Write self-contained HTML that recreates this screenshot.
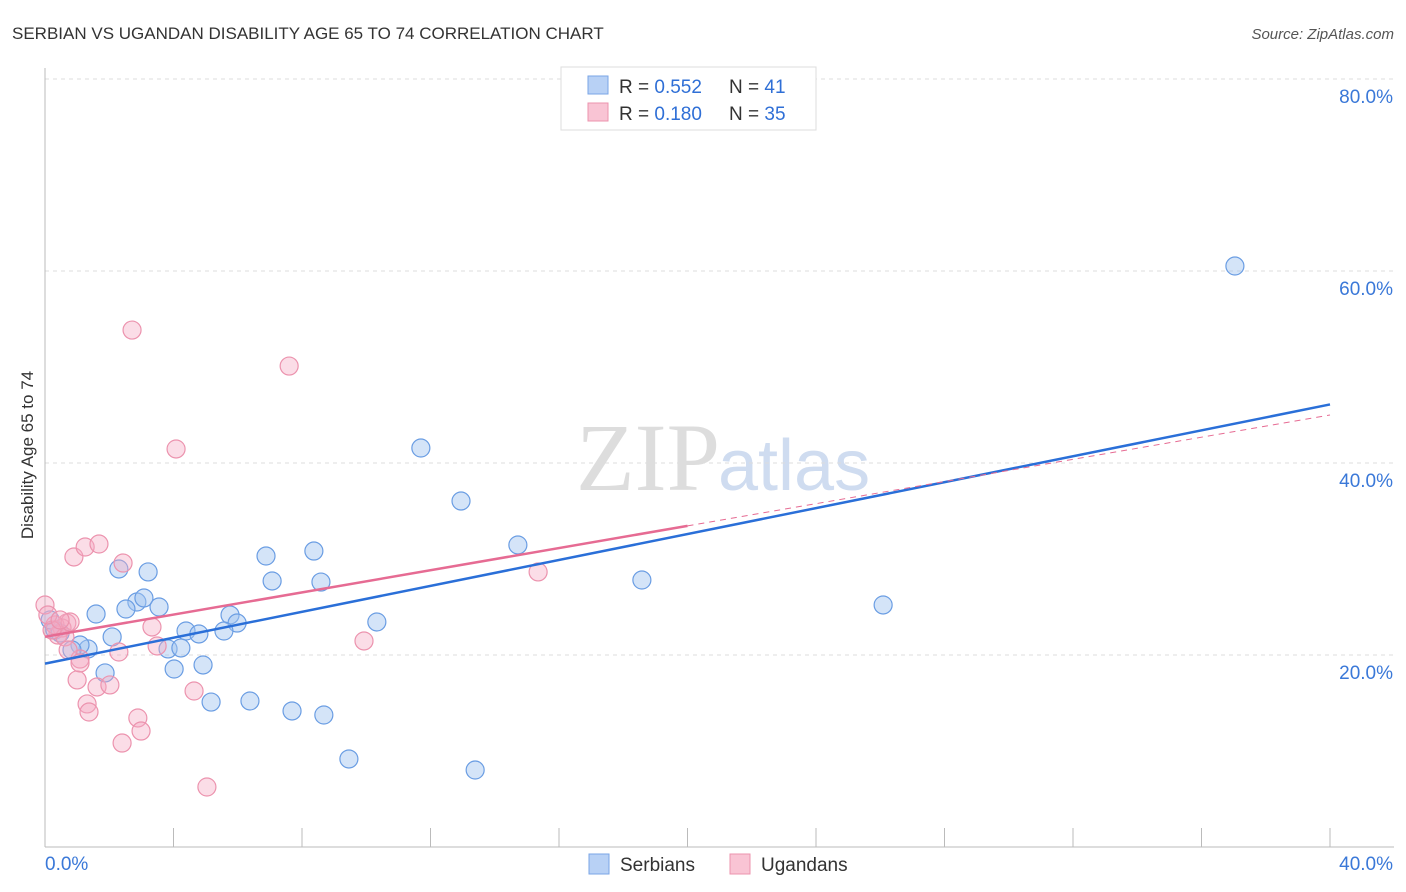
<!DOCTYPE html>
<html><head><meta charset="utf-8"><style>
body{margin:0;background:#fff;font-family:"Liberation Sans",sans-serif;}
svg{display:block}
</style></head><body>
<svg id="c" width="1406" height="892">
<text x="12" y="39" font-size="17" fill="#333">SERBIAN VS UGANDAN DISABILITY AGE 65 TO 74 CORRELATION CHART</text>
<text x="1394" y="39" font-size="15" fill="#555" font-style="italic" text-anchor="end">Source: ZipAtlas.com</text>
<text x="720" y="490" font-size="96" fill="#ddd" font-family="Liberation Serif" text-anchor="end">ZIP</text>
<text x="718" y="490" font-size="72" fill="#cfdcf0">atlas</text>
<text transform="translate(33,455) rotate(-90)" font-size="17" fill="#333" text-anchor="middle">Disability Age 65 to 74</text>
<g id="grid"></g><g id="pts"></g><g id="lines"></g>
<g>
<rect x="561" y="67" width="255" height="63" fill="#fff" stroke="#ddd"/>
<rect x="588" y="76" width="20" height="18" fill="#b8d1f5" stroke="#7aa5e6"/>
<rect x="588" y="103" width="20" height="18" fill="#f9c4d4" stroke="#ec93ae"/>
<text x="619" y="93" font-size="19" fill="#333">R = <tspan fill="#2f6fd6">0.552</tspan><tspan x="729">N = </tspan><tspan fill="#2f6fd6">41</tspan></text>
<text x="619" y="120" font-size="19" fill="#333">R = <tspan fill="#2f6fd6"> 0.180</tspan><tspan x="729">N = </tspan><tspan fill="#2f6fd6">35</tspan></text>
</g>
<g>
<rect x="589" y="854" width="20" height="20" fill="#b8d1f5" stroke="#7aa5e6"/>
<text x="620" y="871" font-size="19" fill="#333">Serbians</text>
<rect x="730" y="854" width="20" height="20" fill="#f9c4d4" stroke="#ec93ae"/>
<text x="761" y="871" font-size="19" fill="#333">Ugandans</text>
</g>
</svg>
<script>
const yTicks=[20,40,60,80];
const yTickLabels=["20.0%","40.0%","60.0%","80.0%"];
const xEndLabels=["0.0%","40.0%"];
const serbX=[37.04,11.70,12.95,14.72,18.58,26.09,6.88,8.37,7.07,8.59,2.30,3.21,2.86,3.08,2.52,3.55,1.59,5.76,5.98,4.39,4.79,5.57,10.33,2.09,3.83,4.23,1.34,1.09,0.84,4.92,4.02,1.87,5.17,6.38,7.69,8.68,9.46,13.39,0.31,0.47,0.16];
const serbY=[60.52,41.56,36.04,31.46,27.81,25.21,30.31,30.83,27.71,27.60,28.96,28.65,25.52,25.94,24.79,25.00,24.27,24.17,23.33,22.50,22.19,22.50,23.44,21.88,20.63,20.73,20.63,21.04,20.52,18.96,18.54,18.13,15.10,15.21,14.17,13.75,9.17,8.02,22.60,22.29,23.65];
const ugX=[2.71,7.60,4.08,0.90,1.25,1.68,2.43,15.35,3.33,3.49,2.30,9.93,0.68,0.53,0.40,0.0,1.09,1.00,1.62,2.02,4.64,1.31,1.37,2.89,2.99,2.40,5.04,0.31,0.62,0.78,0.22,0.09,0.72,0.47,1.09];
const ugY=[53.85,50.10,41.46,30.21,31.25,31.56,29.58,28.65,22.92,20.94,20.31,21.46,23.33,22.81,22.08,25.21,19.58,17.40,16.67,16.88,16.25,14.90,14.06,13.44,12.08,10.83,6.25,23.13,21.88,23.44,22.60,24.17,20.52,23.65,19.17];
const serbLine=[19.1,46.1]; // value at x=0 and x=40
const ugLine=[21.9,45.0];   // value at x=0 and x=40
const ugSolidEnd=20;
const NS="http://www.w3.org/2000/svg";
const X=v=>45+v*32.125, Y=v=>847-v*9.6;
function mk(t,a,p){const e=document.createElementNS(NS,t);for(const k in a)e.setAttribute(k,a[k]);p.appendChild(e);return e;}
const grid=document.getElementById('grid');
yTicks.forEach((t,i)=>{
 const l=mk('line',{x1:45,x2:1394,y1:Y(t),y2:Y(t),stroke:'#ddd','stroke-dasharray':'4,4'},grid);
 
 
 const tx=mk('text',{x:1393,y:Y(t)+24,'font-size':19,fill:'#3a78d8','text-anchor':'end'},grid);
 tx.textContent=yTickLabels[i];
 
 
});
mk('line',{x1:45,x2:45,y1:68,y2:847,stroke:'#bbb'},grid);
mk('line',{x1:45,x2:1394,y1:847,y2:847,stroke:'#bbb'},grid);
for(let i=0;i<=10;i++){const t=mk('line',{x1:X(i*4),x2:X(i*4),y1:828,y2:847,stroke:'#bbb'},grid);
 
 }
[[0,45,'start'],[40,1393,'end']].forEach((d,i)=>{const t=mk('text',{x:d[1],y:870,'font-size':19,fill:'#3a78d8','text-anchor':d[2]},grid);t.textContent=xEndLabels[i];
 
 });
const pts=document.getElementById('pts');
serbX.forEach((x,i)=>{const c=mk('circle',{cx:X(x),cy:Y(serbY[i]),r:9,fill:'rgba(160,195,240,0.45)',stroke:'#6a9de3','stroke-width':1.2},pts);
 
 });
ugX.forEach((x,i)=>{const c=mk('circle',{cx:X(x),cy:Y(ugY[i]),r:9,fill:'rgba(245,170,195,0.4)',stroke:'#ec93ae','stroke-width':1.2},pts);
 
 });
const ln=document.getElementById('lines');
const ugAt=x=>ugLine[0]+(ugLine[1]-ugLine[0])*x/40;
let a=mk('line',{x1:X(0),y1:Y(serbLine[0]),x2:X(40),y2:Y(serbLine[1]),stroke:'#2a6fd8','stroke-width':2.5},ln);


let b=mk('line',{x1:X(ugSolidEnd),y1:Y(ugAt(ugSolidEnd)),x2:X(40),y2:Y(ugLine[1]),stroke:'#e66b93','stroke-width':1,'stroke-dasharray':'6,5'},ln);


let c=mk('line',{x1:X(0),y1:Y(ugLine[0]),x2:X(ugSolidEnd),y2:Y(ugAt(ugSolidEnd)),stroke:'#e66b93','stroke-width':2.5},ln);


</script>
</body></html>
